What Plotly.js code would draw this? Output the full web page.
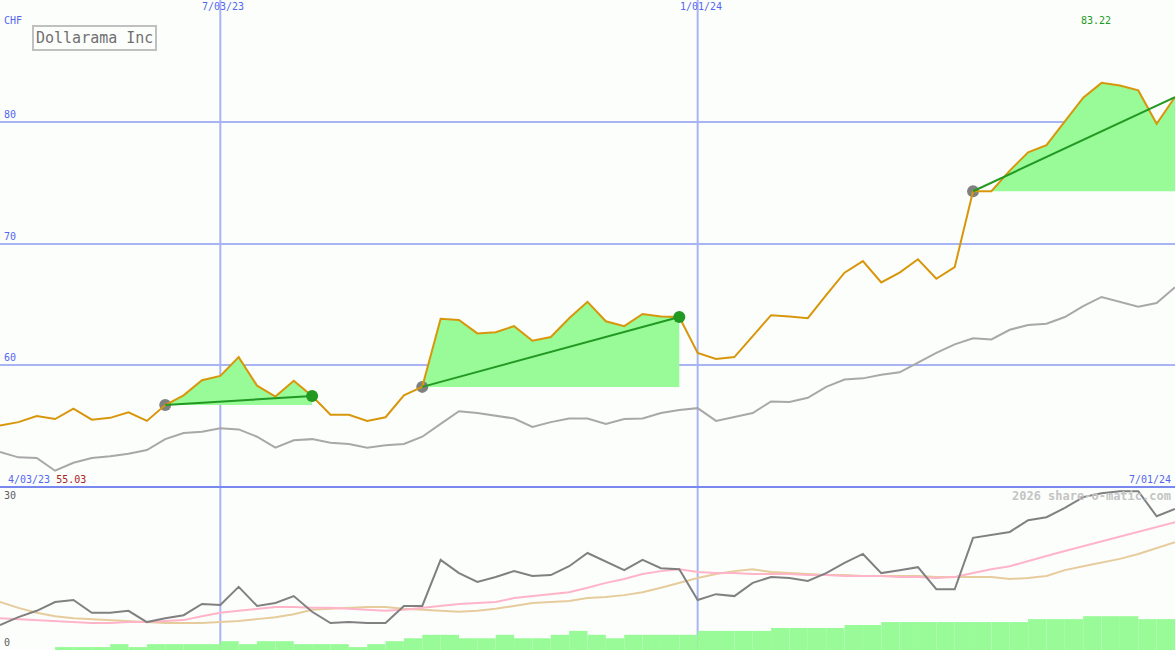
<!DOCTYPE html>
<html><head><meta charset="utf-8">
<script src="https://cdn.plot.ly/plotly-3.0.1.min.js"></script>
<style>html,body{margin:0;padding:0;background:#fcfefc}#chart{width:1175px;height:650px}</style>
</head><body><div id="chart"></div>
<script>
const dates = ['2023-04-10','2023-04-17','2023-04-24','2023-05-01','2023-05-08','2023-05-15','2023-05-22','2023-05-29','2023-06-05','2023-06-12',
'2023-06-19','2023-06-26','2023-07-03','2023-07-10','2023-07-17','2023-07-24','2023-07-31','2023-08-07','2023-08-14','2023-08-21',
'2023-08-28','2023-09-04','2023-09-11','2023-09-18','2023-09-25','2023-10-02','2023-10-09','2023-10-16','2023-10-23','2023-10-30',
'2023-11-06','2023-11-13','2023-11-20','2023-11-27','2023-12-04','2023-12-11','2023-12-18','2023-12-25','2024-01-01','2024-01-08',
'2024-01-15','2024-01-22','2024-01-29','2024-02-05','2024-02-12','2024-02-19','2024-02-26','2024-03-04','2024-03-11','2024-03-18',
'2024-03-25','2024-04-01','2024-04-08','2024-04-15','2024-04-22','2024-04-29','2024-05-06','2024-05-13','2024-05-20','2024-05-27',
'2024-06-03','2024-06-10','2024-06-17','2024-06-24','2024-07-01'];
const price = [55.03,55.3,55.8,55.55,56.4,55.5,55.65,56.1,55.4,56.7,
57.5,58.75,59.1,60.65,58.3,57.4,58.7,57.45,55.9,55.9,
55.4,55.7,57.5,58.2,63.8,63.7,62.6,62.7,63.2,62.0,
62.3,63.85,65.2,63.6,63.2,64.2,64.0,63.95,61.0,60.5,
60.65,62.4,64.1,64.0,63.85,65.75,67.6,68.55,66.8,67.6,
68.7,67.1,68.05,74.3,74.3,76.0,77.5,78.1,80.1,82.0,
83.22,83.0,82.6,79.85,82.05];
const benchmark = [52.84,52.4,52.35,51.3,51.95,52.35,52.5,52.7,53.0,53.9,
54.4,54.5,54.8,54.7,54.1,53.2,53.8,53.9,53.6,53.5,
53.2,53.4,53.5,54.1,55.15,56.2,56.05,55.8,55.6,54.9,
55.3,55.6,55.6,55.15,55.55,55.6,56.05,56.3,56.45,55.4,
55.7,56.05,57.0,56.95,57.3,58.2,58.8,58.9,59.2,59.4,
60.2,61.0,61.7,62.2,62.1,62.9,63.3,63.4,63.95,64.85,
65.6,65.2,64.8,65.1,66.4];
const oscillator = [5.1,6.7,8.0,9.8,10.2,7.6,7.6,8.0,5.7,6.5,
7.1,9.4,9.2,12.9,9.0,9.6,11.0,7.8,5.5,5.7,
5.5,5.5,9.0,9.0,18.4,15.7,13.9,14.9,16.1,15.1,
15.3,17.1,19.8,18.0,16.3,18.4,16.7,16.5,10.2,11.4,
11.0,13.7,14.9,14.7,14.1,15.7,17.8,19.6,15.7,16.3,
16.9,12.4,12.4,22.9,23.5,24.1,26.5,27.1,29.0,31.2,
32.0,32.4,32.4,27.3,28.8];
const avgFast = [6.5,6.3,6.1,5.9,5.7,5.5,5.5,5.7,5.7,5.9,
6.1,6.9,7.6,8.0,8.4,8.8,8.8,8.6,8.6,8.4,
8.2,8.0,8.2,8.6,9.0,9.4,9.6,9.8,10.6,11.0,
11.4,11.8,12.7,13.7,14.5,15.5,16.1,16.5,15.9,15.7,
15.7,15.5,15.5,15.5,15.3,15.3,15.1,15.1,15.1,14.9,
14.9,14.7,14.9,15.7,16.5,17.1,18.2,19.2,20.2,21.2,
22.2,23.1,24.1,25.1,26.1];
const avgSlow = [9.8,8.6,7.6,6.9,6.5,6.3,6.1,5.9,5.7,5.5,
5.5,5.5,5.7,5.9,6.3,6.7,7.3,8.2,8.4,8.6,
8.8,8.8,8.4,8.2,8.0,7.8,8.0,8.4,9.0,9.6,
9.8,10.0,10.6,10.8,11.2,11.8,12.7,13.7,14.7,15.5,
16.1,16.5,15.9,15.7,15.5,15.3,15.3,15.1,15.1,15.1,
15.1,14.9,14.9,14.9,14.9,14.5,14.7,15.1,16.3,17.1,
17.8,18.6,19.6,20.8,22.0];
const volume = [0,0,0,0.6,0.6,0.6,1.2,0.6,1.2,1.2,
1.2,1.2,1.8,1.2,1.8,1.8,1.2,1.2,1.2,0.6,
1.2,1.8,2.4,3.1,3.1,2.4,2.4,3.1,2.4,2.4,
3.1,3.9,3.1,2.4,3.1,3.1,3.1,3.1,3.9,3.9,
3.9,3.9,4.5,4.5,4.5,4.5,5.1,5.1,5.7,5.7,
5.7,5.7,5.7,5.7,5.7,5.7,6.3,6.3,6.3,6.9,
6.9,6.9,6.3,6.3];
const trendStart = [9, 23, 53];
const trendEnd = [17, 37, 64];
const gridPrices = [60, 70, 80];
const gridPriceLabels = ['60', '70', '80'];
const topDates = ['2023-07-03', '2024-01-01'];
const topDateLabels = ['7/03/23', '1/01/24'];
const startDateLabel = '4/03/23';
const endDateLabel = '7/01/24';
const lowerTicks = [30, 0];
const lowerTickLabels = ['30', '0'];
const currency = 'CHF';
const chartTitle = 'Dollarama Inc';
const watermark = '2026 share-o-matic.com';

const MONO = 'DejaVu Sans Mono, Liberation Mono, monospace';
const WEEK = 7 * 24 * 3600 * 1000;
const traces = [];

// green filled areas of the trends
trendStart.forEach((s, i) => {
  const e = trendEnd[i];
  traces.push({
    type: 'scatter', mode: 'lines', hoverinfo: 'skip',
    x: dates.slice(s, e + 1).concat([dates[e], dates[s]]),
    y: price.slice(s, e + 1).concat([price[s], price[s]]),
    fill: 'toself', fillcolor: '#98fb98', line: {width: 0}
  });
});
// volume
traces.push({type: 'bar', x: dates.slice(0, volume.length), y: volume, yaxis: 'y2',
  offset: 0, width: WEEK, marker: {color: '#98fb98', line: {width: 0}}, hoverinfo: 'skip'});
// lower lines
traces.push({type: 'scatter', mode: 'lines', x: dates, y: avgSlow, yaxis: 'y2', line: {color: '#e6cc9c', width: 2}});
traces.push({type: 'scatter', mode: 'lines', x: dates, y: avgFast, yaxis: 'y2', line: {color: '#ffb4c8', width: 2}});
traces.push({type: 'scatter', mode: 'lines', x: dates, y: oscillator, yaxis: 'y2', line: {color: '#808080', width: 2}});
// benchmark and price
traces.push({type: 'scatter', mode: 'lines', x: dates, y: benchmark, line: {color: '#a8a8a8', width: 2}});
traces.push({type: 'scatter', mode: 'markers', x: trendStart.map(i => dates[i]), y: trendStart.map(i => price[i]),
  marker: {color: '#808080', size: 12}});
traces.push({type: 'scatter', mode: 'lines', x: dates, y: price, line: {color: '#d8960a', width: 2}});
// trend lines
trendStart.forEach((s, i) => {
  const e = trendEnd[i];
  traces.push({type: 'scatter', mode: 'lines', x: [dates[s], dates[e]], y: [price[s], price[e]],
    line: {color: '#229922', width: 2}});
});
const doneEnds = trendEnd.filter(e => e < price.length - 1);
traces.push({type: 'scatter', mode: 'markers', x: doneEnds.map(i => dates[i]), y: doneEnds.map(i => price[i]),
  marker: {color: '#229922', size: 12}});

const split = 163 / 650;
const shapes = [];
topDates.forEach(d => shapes.push({type: 'line', layer: 'below', xref: 'x', yref: 'paper', x0: d, x1: d, y0: 0, y1: 1,
  line: {color: '#a8b4f4', width: 2}}));
shapes.push({type: 'line', layer: 'below', xref: 'paper', yref: 'paper', x0: 0, x1: 1, y0: split, y1: split,
  line: {color: '#7888ee', width: 2}});

const maxIdx = price.indexOf(Math.max(...price));
const minVal = Math.min(...price);
const blue = '#5566ee';
const ann = [];
topDates.forEach((d, i) => ann.push({xref: 'x', yref: 'paper', x: d, y: 1, xanchor: 'center', yanchor: 'top', yshift: 1, xshift: 3,
  text: topDateLabels[i], showarrow: false, font: {family: MONO, size: 10, color: blue}}));
gridPrices.forEach((p, i) => ann.push({xref: 'paper', yref: 'y', x: 0, y: p, xanchor: 'left', yanchor: 'bottom', xshift: 2,
  text: gridPriceLabels[i], showarrow: false, font: {family: MONO, size: 10, color: blue}}));
lowerTicks.forEach((p, i) => ann.push({xref: 'paper', yref: 'y2', x: 0, y: p, xanchor: 'left', yanchor: 'bottom', xshift: 2,
  text: lowerTickLabels[i], showarrow: false, font: {family: MONO, size: 10, color: '#606060'}}));
ann.push({xref: 'paper', yref: 'paper', x: 0, y: 1 - 20 / 650, xanchor: 'left', yanchor: 'middle', xshift: 2,
  text: currency, showarrow: false, font: {family: MONO, size: 10, color: blue}});
ann.push({xref: 'paper', yref: 'paper', x: 32 / 1175, y: 1 - 25 / 650, xanchor: 'left', yanchor: 'top',
  text: chartTitle, showarrow: false, font: {family: MONO, size: 15, color: '#707070'},
  bordercolor: '#c0c0c0', borderwidth: 2, borderpad: 2, bgcolor: '#fcfefc'});
ann.push({xref: 'x', yref: 'paper', x: dates[maxIdx], y: 1 - 21 / 650, xanchor: 'center', yanchor: 'middle', xshift: -6,
  text: price[maxIdx].toFixed(2), showarrow: false, font: {family: MONO, size: 10, color: '#229922'}});
ann.push({xref: 'paper', yref: 'paper', x: 0, y: 1 - 479 / 650, xanchor: 'left', yanchor: 'middle', xshift: 6,
  text: startDateLabel + ' <span style="color:#aa2222">' + minVal.toFixed(2) + '</span>', showarrow: false,
  font: {family: MONO, size: 10, color: blue}});
ann.push({xref: 'paper', yref: 'paper', x: 1, y: 1 - 479 / 650, xanchor: 'right', yanchor: 'middle', xshift: -2,
  text: endDateLabel, showarrow: false, font: {family: MONO, size: 10, color: blue}});
ann.push({xref: 'paper', yref: 'paper', x: 1, y: 1 - 496 / 650, xanchor: 'right', yanchor: 'middle', xshift: -2,
  text: '<b>' + watermark + '</b>', showarrow: false, font: {family: MONO, size: 12, color: '#c4c4c4'}});

const layout = {
  width: 1175, height: 650, margin: {l: 0, r: 0, t: 0, b: 0},
  paper_bgcolor: '#fcfefc', plot_bgcolor: '#fcfefc', showlegend: false,
  xaxis: {type: 'date', range: [dates[0], dates[dates.length - 1]], visible: false, fixedrange: true},
  yaxis: {domain: [split, 1], range: [49.96, 90.04], tickvals: gridPrices, showticklabels: false, ticks: '',
    gridcolor: '#a8b4f4', gridwidth: 2, zeroline: false, showline: false, fixedrange: true},
  yaxis2: {domain: [0, split], range: [0, 33.27], showgrid: false, showticklabels: false, zeroline: false,
    showline: false, ticks: '', fixedrange: true},
  shapes: shapes, annotations: ann, hovermode: false
};
Plotly.newPlot('chart', traces, layout, {displayModeBar: false, staticPlot: true});
</script></body></html>
